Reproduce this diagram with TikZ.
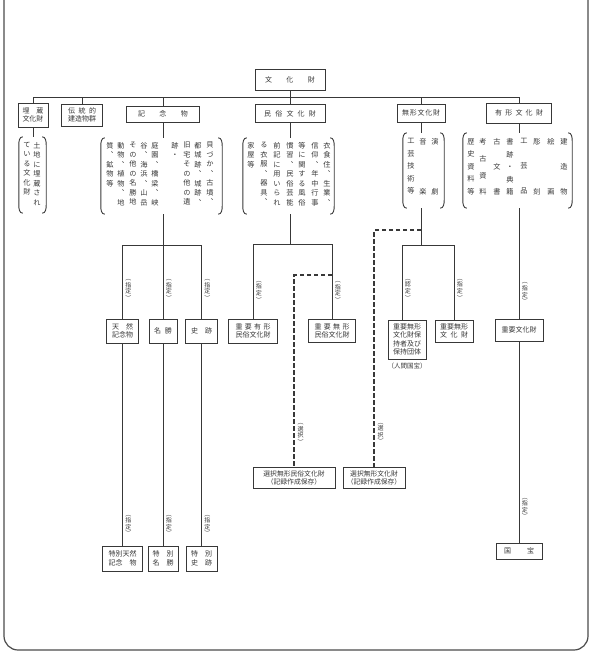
\documentclass[tikz,border=0pt]{standalone}
\usepackage{fontspec}
\setmainfont{Noto Sans CJK JP}
\newfontfamily\tatefont[RawFeature=+vert]{Noto Sans CJK JP}
\usetikzlibrary{positioning, calc}
\definecolor{ink}{gray}{0.22}

% spread characters over a fixed width
\newcommand\spr[2]{\makebox[#1][s]{#2}}
% stack characters vertically (one per line)
\def\tate#1{\tateA#1\relax}
\def\tateA#1{#1\tateB}
\def\tateB#1{\ifx\relax#1\else\\#1\expandafter\tateB\fi}
% round brackets around a group node
\newcommand\paren[1]{%
  \draw[brk] ([xshift=4pt]#1.north west) to[out=180,in=90] ([yshift=-8pt]#1.north west)
    -- ([yshift=8pt]#1.south west) to[out=-90,in=180] ([xshift=4pt]#1.south west);
  \draw[brk] ([xshift=-4pt]#1.north east) to[out=0,in=90] ([yshift=-8pt]#1.north east)
    -- ([yshift=8pt]#1.south east) to[out=-90,in=0] ([xshift=-4pt]#1.south east);}

\begin{document}
\begin{tikzpicture}[x=1pt, y=-1pt,
  box/.style={draw=ink, line width=0.9pt, fill=white, inner sep=1.5pt, align=center,
              font=\fontsize{7}{8.5}\selectfont, text=ink},
  ln/.style={draw=ink, line width=0.85pt},
  dsh/.style={draw=ink, line width=1.1pt, dash pattern=on 4.5pt off 2.5pt},
  grp/.style={inner sep=0pt},
  col/.style={font=\tatefont\fontsize{7.2}{#1}\selectfont, inner sep=0pt, align=center,
              anchor=north, text=ink},
  col/.default=9.5,
  lab/.style={font=\tatefont\fontsize{6}{6.6}\selectfont, inner sep=0pt, align=center,
              text=ink},
  brk/.style={draw=ink, line width=0.9pt},
  rim/.style={draw=black!70, line width=1.2pt, rounded corners=14pt},
]
\useasboundingbox (0,0) rectangle (591,656);
\draw[rim] (4,0) -- (4,650) -- (588,650) -- (588,0);

% ---- top ----
\node[box, minimum width=70pt, minimum height=21pt] (bunka) at (290,79.5) {\spr{50pt}{文\hfil 化\hfil 財}};

% ---- second row ----
\node[box, minimum width=30pt, minimum height=24pt] (maizo) at (33,115) {\spr{21pt}{埋\hfil 蔵}\\文化財};
\node[box, minimum width=41pt, minimum height=22pt] (dento) at (82,115) {\spr{28pt}{伝\hfil 統\hfil 的}\\建造物群};
\node[box, minimum width=73pt, minimum height=16pt] (kinen) at (163,114) {\spr{50pt}{記\hfil 念\hfil 物}};
\node[box, minimum width=70pt, minimum height=18pt] (minzoku) at (290,113.5) {\spr{52pt}{民\hfil 俗\hfil 文\hfil 化\hfil 財}};
\node[box, minimum width=48pt, minimum height=18pt] (mukei) at (421,113) {\spr{38pt}{無\hfil 形\hfil 文\hfil 化\hfil 財}};
\node[box, minimum width=65pt, minimum height=20pt] (yukei) at (519,113) {\spr{48pt}{有\hfil 形\hfil 文\hfil 化\hfil 財}};

\draw[ln] (maizo.north) -- (maizo.north |- 0,97) -- (yukei.north |- 0,97) -- (yukei.north);
\draw[ln] (bunka.south) -- (minzoku.north);
\draw[ln] (dento.north) -- (dento.north |- 0,97);
\draw[ln] (kinen.north) -- (kinen.north |- 0,97);
\draw[ln] (mukei.north) -- (mukei.north |- 0,97);

% ---- bracketed contents ----
\node[grp, minimum width=27pt, minimum height=76pt] (g1) at (32.5,175) {};
\node[grp, minimum width=121pt, minimum height=76pt] (g3) at (161.5,176) {};
\node[grp, minimum width=91pt, minimum height=76pt] (g4) at (288.5,176) {};
\node[grp, minimum width=41pt, minimum height=75pt] (g5) at (423.5,170.5) {};
\node[grp, minimum width=109pt, minimum height=75pt] (g6) at (517.5,170.5) {};
\paren{g1} \paren{g3} \paren{g4} \paren{g5} \paren{g6}

\node[col] (u1) at (37,142) {\tate{土地に埋蔵され}};
\node[col] (u2) at (27,142) {\tate{ている文化財}};

\node[col] (k1) at (210,142) {\tate{貝づか、古墳、}};
\node[col] (k2) at (198,142) {\tate{都城跡、城跡、}};
\node[col] (k3) at (187,142) {\tate{旧宅その他の遺}};
\node[col] (k4) at (175,142) {\tate{跡・}};
\node[col] (k5) at (155,142) {\tate{庭園、橋梁、峡}};
\node[col] (k6) at (144,142) {\tate{谷、海浜、山岳}};
\node[col] (k7) at (133,142) {\tate{その他の名勝地}};
\node[col] (k8) at (121,142) {\tate{動物、植物、地}};
\node[col] (k9) at (110,142) {\tate{質、鉱物等}};

\node[col] (f1) at (327,142) {\tate{衣食住、生業、}};
\node[col] (f2) at (315,142) {\tate{信仰、年中行事}};
\node[col] (f3) at (302,142) {\tate{等に関する風俗}};
\node[col] (f4) at (290,142) {\tate{慣習、民俗芸能}};
\node[col] (f5) at (277,142) {\tate{前記に用いられ}};
\node[col] (f6) at (264,142) {\tate{る衣服、器具、}};
\node[col] (f7) at (251,142) {\tate{家屋等}};

\node[col=50] (w1) at (435,138.5) {\tate{演劇}};
\node[col=50] (w2) at (423,138.5) {\tate{音楽}};
\node[col=12.5] (w3) at (411,138.5) {\tate{工芸技術等}};

\node[col=25] (y1) at (564,138.5) {\tate{建造物}};
\node[col=50] (y2) at (551,138.5) {\tate{絵画}};
\node[col=50] (y3) at (537,138.5) {\tate{彫刻}};
\node[col=25] (y4) at (524,138.5) {\tate{工芸品}};
\node[col=12.5] (y5) at (510,138.5) {\tate{書跡・典籍}};
\node[col=25] (y6) at (497,138.5) {\tate{古文書}};
\node[col=16.67] (y7) at (483,138.5) {\tate{考古資料}};
\node[col=12.5] (y8) at (471,138.5) {\tate{歴史資料等}};

\draw[ln] (maizo.south) -- (maizo.south |- g1.north);
\draw[ln] (kinen.south) -- (kinen.south |- g3.north);
\draw[ln] (minzoku.south) -- (minzoku.south |- g4.north);
\draw[ln] (mukei.south) -- (mukei.south |- g5.north);
\draw[ln] (yukei.south) -- (yukei.south |- g6.north);

% ---- designated ----
\node[box, minimum width=32pt, minimum height=24pt] (tennen) at (122.5,331) {\spr{21pt}{天\hfil 然}\\記念物};
\node[box, minimum width=28pt, minimum height=24pt] (meisho) at (163,331) {\spr{18pt}{名\hfil 勝}};
\node[box, minimum width=32pt, minimum height=24pt] (shiseki) at (201.5,331) {\spr{21pt}{史\hfil 跡}};
\node[box, minimum width=49pt, minimum height=24pt] (yumin) at (253,331) {\spr{35pt}{重\hfil 要\hfil 有\hfil 形}\\民俗文化財};
\node[box, minimum width=47pt, minimum height=23pt] (mumin) at (332,331) {\spr{35pt}{重\hfil 要\hfil 無\hfil 形}\\民俗文化財};
\node[box, minimum width=38pt, minimum height=39pt] (hoji) at (407,339.5) {重要無形\\文化財保\\持者及び\\保持団体};
\node[font=\fontsize{6.5}{7}\selectfont, text=ink, inner sep=0pt, below=3pt of hoji] (ningen) {（人間国宝）};
\node[box, minimum width=38pt, minimum height=22pt] (jumu) at (454,331) {重要無形\\\spr{28pt}{文\hfil 化\hfil 財}};
\node[box, minimum width=48pt, minimum height=22pt] (jubun) at (519,330) {重要文化財};

\draw[ln] (kinen.south |- g3.south) -- (meisho.north |- 0,245);
\draw[ln] (tennen.north |- 0,245) -- (shiseki.north |- 0,245);
\draw[ln] (tennen.north |- 0,245) -- node[lab, pos=.61, right=2.5pt] (l1) {\tate{（指定）}} (tennen.north);
\draw[ln] (meisho.north |- 0,245) -- node[lab, pos=.61, right=2.5pt] (l2) {\tate{（指定）}} (meisho.north);
\draw[ln] (shiseki.north |- 0,245) -- node[lab, pos=.61, right=2.5pt] (l3) {\tate{（指定）}} (shiseki.north);

\draw[ln] (minzoku.south |- g4.south) -- (minzoku.south |- 0,244);
\draw[ln] (yumin.north |- 0,244) -- (mumin.north |- 0,244);
\draw[ln] (yumin.north |- 0,244) -- node[lab, pos=.64, right=2.5pt] (l4) {\tate{（指定）}} (yumin.north);
\draw[ln] (mumin.north |- 0,244) -- node[lab, pos=.64, right=2.5pt] (l5) {\tate{（指定）}} (mumin.north);

\coordinate (hj) at ([xshift=-5pt]hoji.north);
\draw[ln] (mukei.south |- g5.south) -- (mukei.south |- 0,245);
\draw[ln] (hj |- 0,245) -- (jumu.north |- 0,245);
\draw[ln] (hj |- 0,245) -- node[lab, pos=.6, right=2.5pt] (l6) {\tate{（認定）}} (hj);
\draw[ln] (jumu.north |- 0,245) -- node[lab, pos=.6, right=2.5pt] (l7) {\tate{（指定）}} (jumu.north);

\draw[ln] (yukei.south |- g6.south) -- node[lab, pos=.77, right=2.5pt] (l8) {\tate{（指定）}} (jubun.north);

% ---- selected (dashed) ----
\node[box, minimum width=82pt, minimum height=21pt, font=\fontsize{6.8}{8}\selectfont] (sen1) at (294,477.5) {選択無形民俗文化財\\（記録作成保存）};
\node[box, minimum width=62pt, minimum height=21pt, font=\fontsize{6.8}{8}\selectfont] (sen2) at (374,477.5) {選択無形文化財\\（記録作成保存）};

\coordinate (dj1) at (mumin.north |- 0,275);
\coordinate (dj2) at (mukei.south |- 0,230);
\draw[dsh] (dj1) -- (dj1 -| sen1.north) -- node[lab, pos=.83, right=3pt] (l9) {\tate{（選択）}} (sen1.north);
\draw[dsh] (dj2) -- (dj2 -| sen2.north) -- node[lab, pos=.86, right=3pt] (l10) {\tate{（選択）}} (sen2.north);

% ---- special ----
\node[box, minimum width=40pt, minimum height=25pt] (ttennen) at (122.5,558.5) {特別天然\\\spr{28pt}{記念\hfil 物}};
\node[box, minimum width=30pt, minimum height=25pt] (tmeisho) at (163,558.5) {\spr{21pt}{特\hfil 別}\\\spr{21pt}{名\hfil 勝}};
\node[box, minimum width=31pt, minimum height=25pt] (tshiseki) at (201.5,558.5) {\spr{21pt}{特\hfil 別}\\\spr{21pt}{史\hfil 跡}};
\node[box, minimum width=46pt, minimum height=16pt] (kokuho) at (519,551) {\spr{30pt}{国\hfil 宝}};

\draw[ln] (tennen.south) -- node[lab, pos=.9, right=2.5pt] (l11) {\tate{（指定）}} (ttennen.north);
\draw[ln] (meisho.south) -- node[lab, pos=.9, right=2.5pt] (l12) {\tate{（指定）}} (tmeisho.north);
\draw[ln] (shiseki.south) -- node[lab, pos=.9, right=2.5pt] (l13) {\tate{（指定）}} (tshiseki.north);
\draw[ln] (jubun.south) -- node[lab, pos=.83, right=2.5pt] (l14) {\tate{（指定）}} (kokuho.north);

\end{tikzpicture}
\end{document}
